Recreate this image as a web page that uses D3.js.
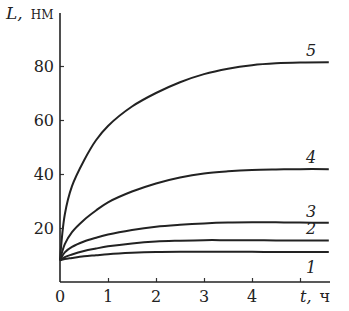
<!DOCTYPE html>
<html>
<head>
<meta charset="utf-8">
<script src="https://cdn.jsdelivr.net/npm/d3@7"></script>
<style>
  body { margin: 0; background: #fff; }
  svg text { font-family: "DejaVu Serif", "Liberation Serif", "Times New Roman", serif; }
</style>
</head>
<body>
<svg width="349" height="311"></svg>
<script>
// time points, hours
var times = [0, 0.1, 0.25, 0.5, 0.75, 1, 1.5, 2, 2.5, 3, 3.5, 4, 4.5, 5, 5.6];

// L, nm for curves 1..5
var curve1 = [8, 8.5, 8.9, 9.5, 9.9, 10.3, 10.8, 11.1, 11.2, 11.2, 11.2, 11.2, 11.1, 11.1, 11.1];
var curve2 = [8, 9.2, 10.2, 11.5, 12.4, 13.2, 14.3, 15, 15.3, 15.5, 15.5, 15.5, 15.4, 15.4, 15.4];
var curve3 = [8, 11, 13, 15, 16.4, 17.6, 19.3, 20.5, 21.2, 21.7, 22, 22.1, 22.1, 22, 21.9];
var curve4 = [8, 14, 18.5, 23, 26.5, 29.5, 33.5, 36.5, 38.7, 40.2, 41, 41.5, 41.7, 41.8, 41.8];
var curve5 = [8, 25, 35.5, 45, 52.5, 57.8, 65, 70, 74, 77, 79, 80.3, 81, 81.3, 81.4];

var curveLabels = ["1", "2", "3", "4", "5"];
var xTicks = [0, 1, 2, 3, 4];
var yTicks = [20, 40, 60, 80];

var svg = d3.select("svg");

var x = d3.scaleLinear().domain([0, 5.625]).range([60, 330]);
var y = d3.scaleLinear().domain([0, 100]).range([282, 12]);

var series = [curve1, curve2, curve3, curve4, curve5];

var line = d3.line()
  .x(function(d, i) { return x(times[i]); })
  .y(function(d) { return y(d); })
  .curve(d3.curveCatmullRom.alpha(0.5));

// curves
svg.selectAll("path.curve")
  .data(series)
  .enter().append("path")
  .attr("class", "curve")
  .attr("d", line)
  .style("fill", "none")
  .style("stroke", "#222")
  .style("stroke-width", "2px");

// axes, ticks pointing inward
var xAxis = d3.axisTop(x).tickValues([1, 2, 3, 4, 5]).tickSize(4).tickFormat("");
var yAxis = d3.axisRight(y).tickValues(yTicks).tickSize(4).tickFormat("");

var gx = svg.append("g").attr("transform", "translate(0," + y(0) + ")").call(xAxis);
var gy = svg.append("g").attr("transform", "translate(" + x(0) + ",0)").call(yAxis);
[gx, gy].forEach(function(g) {
  g.select(".domain").remove();
  g.selectAll("line").style("stroke", "#333").style("stroke-width", "1.2px");
});

// axis lines
svg.append("line")
  .attr("x1", x(0)).attr("y1", y(0))
  .attr("x2", 330).attr("y2", y(0))
  .style("stroke", "#222").style("stroke-width", "1.6px");
svg.append("line")
  .attr("x1", x(0)).attr("y1", y(0))
  .attr("x2", x(0)).attr("y2", 13)
  .style("stroke", "#222").style("stroke-width", "1.6px");

// tick labels
svg.selectAll("text.xl")
  .data(xTicks)
  .enter().append("text")
  .attr("x", function(d) { return x(d); })
  .attr("y", 302)
  .attr("text-anchor", "middle")
  .attr("fill", "#222")
  .style("font-size", "16px")
  .text(function(d) { return d; });

svg.selectAll("text.yl")
  .data(yTicks)
  .enter().append("text")
  .attr("x", 54)
  .attr("y", function(d) { return y(d) + 6; })
  .attr("text-anchor", "end")
  .attr("fill", "#222")
  .style("font-size", "16px")
  .text(function(d) { return d; });

// axis titles
var yt = svg.append("text").attr("x", 6).attr("y", 19).attr("fill", "#222").style("font-size", "17px");
yt.append("tspan").style("font-style", "italic").text("L,");
yt.append("tspan").attr("dx", 8).style("font-size", "12px").text("НМ");

var xt = svg.append("text").attr("x", 300).attr("y", 302).attr("fill", "#222").style("font-size", "16px");
xt.append("tspan").style("font-style", "italic").text("t,");
xt.append("tspan").attr("dx", 8).text("ч");

// curve numbers
svg.selectAll("text.num")
  .data(series)
  .enter().append("text")
  .attr("x", 311)
  .attr("y", function(d, i) {
    var last = d[d.length - 1];
    return i === 0 ? y(last) + 21 : y(last) - 6;
  })
  .attr("text-anchor", "middle")
  .attr("fill", "#222")
  .style("font-size", "16px")
  .style("font-style", "italic")
  .text(function(d, i) { return curveLabels[i]; });
</script>
</body>
</html>
